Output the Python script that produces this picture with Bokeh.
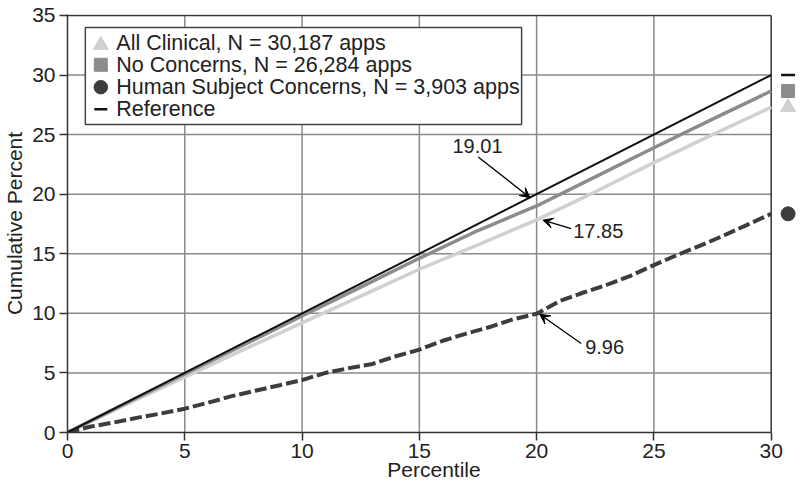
from bokeh.plotting import figure
from bokeh.models import Range1d, FixedTicker, Label, Arrow, VeeHead
from bokeh.embed import file_html
from bokeh.resources import INLINE

# ---------------- data ----------------
pct_coarse = [0, 2.5, 5, 7.5, 10, 12.5, 15, 17.5, 20, 22.5, 25, 27.5, 30]
all_clinical = [0, 2.35, 4.65, 6.95, 9.2, 11.45, 13.7, 15.75, 17.85, 20.2, 22.65, 25.0, 27.3]
no_concerns = [0, 2.47, 4.92, 7.35, 9.78, 12.2, 14.62, 16.95, 19.01, 21.45, 23.9, 26.3, 28.66]

pct_fine = [0, 1, 2, 3, 4, 5, 6, 7, 8, 9, 10, 11, 12, 13, 14, 15, 16, 17, 18, 19,
            20, 21, 22, 23, 24, 25, 26, 27, 28, 29, 30]
human_subject = [0, 0.5, 0.85, 1.25, 1.6, 2.0, 2.5, 3.05, 3.5, 3.95, 4.4, 5.0, 5.4, 5.75,
                 6.4, 6.95, 7.7, 8.3, 8.85, 9.5, 9.96, 11.05, 11.75, 12.4, 13.15, 14.05,
                 14.9, 15.7, 16.55, 17.45, 18.35]

ref_x = [0, 30]
ref_y = [0, 30]

x_ticks = [0, 5, 10, 15, 20, 25, 30]
y_ticks = [0, 5, 10, 15, 20, 25, 30, 35]

series_labels = ["All Clinical, N = 30,187 apps",
                 "No Concerns, N = 26,284 apps",
                 "Human Subject Concerns, N = 3,903 apps",
                 "Reference"]
callout_values = [19.01, 17.85, 9.96]

# ---------------- styles / layout ----------------
FONT = "Liberation Sans"
TXT = "#222222"
C_AC = "#d0d0d0"
C_NC = "#8c8c8c"
C_HS = "#3d3d3d"
C_REF = "#111111"
C_GRID = "#8a8a8a"
C_FRAME = "#333333"
END_X = 30.72   # end markers in the strip right of the frame

p = figure(width=800, height=489,
           x_range=Range1d(0, 31.25), y_range=Range1d(0, 35.08),
           output_backend="svg", toolbar_location=None,
           min_border_left=64, min_border_right=0, min_border_top=14, min_border_bottom=57)
p.outline_line_color = None
p.xgrid.visible = False
p.ygrid.visible = False
p.background_fill_color = "white"
p.border_fill_color = "white"

for ax in (p.xaxis[0], p.yaxis[0]):
    ax.major_label_text_font = FONT
    ax.major_label_text_font_size = "21px"
    ax.major_label_text_color = TXT
    ax.major_tick_out = 8
    ax.major_tick_in = 0
    ax.minor_tick_out = 0
    ax.minor_tick_in = 0
    ax.axis_line_width = 1.5
    ax.axis_line_color = C_FRAME
    ax.major_tick_line_width = 1.5
    ax.major_tick_line_color = C_FRAME
    ax.axis_label_text_font = FONT
    ax.axis_label_text_font_size = "21px"
    ax.axis_label_text_font_style = "normal"
    ax.axis_label_text_color = TXT

p.xaxis.ticker = FixedTicker(ticks=x_ticks)
p.xaxis.bounds = (x_ticks[0], x_ticks[-1])
p.xaxis.major_label_standoff = 3
p.xaxis.axis_label = "Percentile"
p.xaxis.axis_label_standoff = -3

p.yaxis.ticker = FixedTicker(ticks=y_ticks)
p.yaxis.major_label_standoff = 4
p.yaxis.axis_label = "Cumulative Percent"
p.yaxis.axis_label_standoff = 3

# grid lines (stop at the plot frame)
hy = y_ticks[1:-1]
p.segment(x0=[x_ticks[0]] * len(hy), y0=hy, x1=[x_ticks[-1]] * len(hy), y1=hy,
          line_color=C_GRID, line_width=1.5)
vx = x_ticks[1:-1]
p.segment(x0=vx, y0=[y_ticks[0]] * len(vx), x1=vx, y1=[y_ticks[-1]] * len(vx),
          line_color=C_GRID, line_width=1.5)
# top and right frame edges
p.segment(x0=[x_ticks[-1], x_ticks[0]], y0=[y_ticks[0], y_ticks[-1]],
          x1=[x_ticks[-1], x_ticks[-1]], y1=[y_ticks[-1], y_ticks[-1]],
          line_color=C_FRAME, line_width=1.5)

# curves
p.line(pct_coarse, all_clinical, line_color=C_AC, line_width=3.5)
p.line(pct_coarse, no_concerns, line_color=C_NC, line_width=3.5)
p.line(pct_fine, human_subject, line_color=C_HS, line_width=4, line_dash="12 4")
p.line(ref_x, ref_y, line_color=C_REF, line_width=2)

# end markers in the strip right of the frame
p.scatter([END_X], [all_clinical[-1]], marker="triangle", size=15,
          fill_color=C_AC, line_color=C_AC)
p.scatter([END_X], [no_concerns[-1]], marker="square", size=13,
          fill_color=C_NC, line_color=C_NC)
p.scatter([END_X], [human_subject[-1]], marker="circle", size=14,
          fill_color=C_HS, line_color=C_HS)
p.scatter([END_X], [ref_y[-1]], marker="dash", size=14,
          line_color=C_REF, line_width=2.5)

# legend box (drawn after the grid so that it covers it)
LEG_L, LEG_R, LEG_T, LEG_B = 0.76, 19.36, 33.99, 25.85
p.quad(left=[LEG_L], right=[LEG_R], top=[LEG_T], bottom=[LEG_B],
       fill_color="white", line_color="#444444", line_width=1.5)
leg_rows = [32.67, 30.86, 28.98, 27.13]
leg_mx, leg_tx = 1.42, 2.08
p.scatter([leg_mx], [leg_rows[0] - 0.15], marker="triangle", size=15,
          fill_color=C_AC, line_color=C_AC)
p.scatter([leg_mx], [leg_rows[1]], marker="square", size=13,
          fill_color=C_NC, line_color=C_NC)
p.scatter([leg_mx], [leg_rows[2]], marker="circle", size=13.5,
          fill_color=C_HS, line_color=C_HS)
p.scatter([leg_mx], [leg_rows[3]], marker="dash", size=13,
          line_color=C_REF, line_width=2.5)
for lab, yy in zip(series_labels, leg_rows):
    p.add_layout(Label(x=leg_tx, y=yy, text=lab, text_align="left",
                       text_baseline="middle", text_font=FONT,
                       text_font_size="21.5px", text_color=TXT))

# call-outs
callouts = [
    # (text x, text y, align, arrow tail x, tail y, tip x, tip y)
    (17.48, 24.05, "center", 17.51, 23.13, 19.72, 19.7),
    (21.56, 16.95, "left", 21.47, 17.12, 20.27, 17.82),
    (22.07, 7.15, "left", 21.9, 7.47, 20.13, 9.93),
]
for val, (tx, ty, al, x0, y0, x1, y1) in zip(callout_values, callouts):
    p.add_layout(Arrow(end=VeeHead(size=10, fill_color="black", line_color="black", line_width=1),
                       x_start=x0, y_start=y0, x_end=x1, y_end=y1,
                       line_color="black", line_width=1.3))
    p.add_layout(Label(x=tx, y=ty, text=f"{val:.2f}", text_align=al,
                       text_baseline="alphabetic", text_font=FONT,
                       text_font_size="20px", text_color=TXT))

open("out.html", "w").write(file_html(p, INLINE))
